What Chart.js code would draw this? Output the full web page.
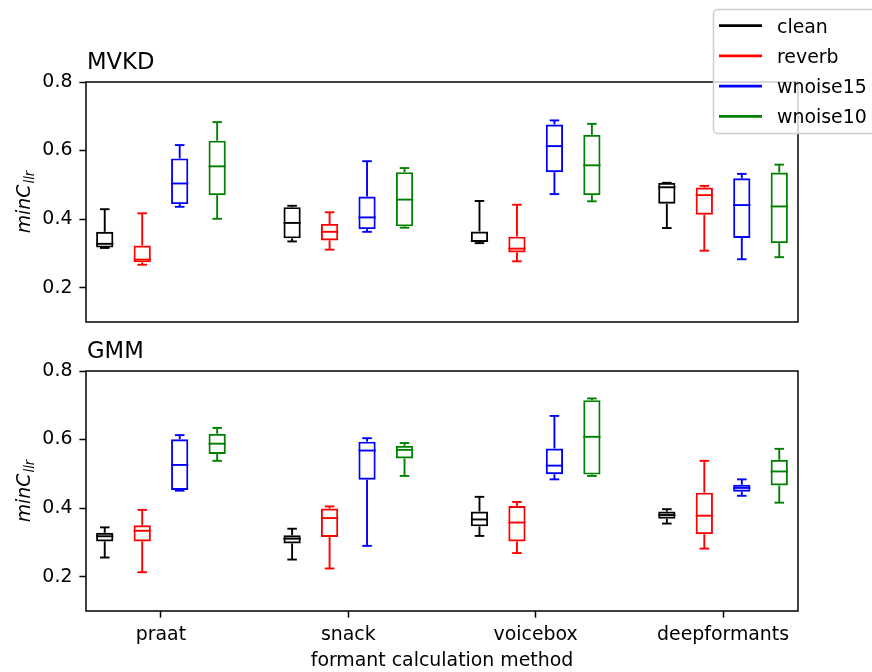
<!DOCTYPE html>
<html>
<head>
<meta charset="utf-8">
<script src="https://cdn.jsdelivr.net/npm/chart.js@4.4.1/dist/chart.umd.min.js"></script>
<style>
html,body{margin:0;padding:0;background:#fff;}
#wrap{position:relative;width:872px;height:672px;overflow:hidden;background:#fff;}
canvas{position:absolute;left:0;}
</style>
</head>
<body>
<div id="wrap">
<canvas id="cTop" width="872" height="336" style="top:0;width:872px;height:336px"></canvas>
<canvas id="cBot" width="872" height="336" style="top:336px;width:872px;height:336px"></canvas>
</div>
<script>
// ---------- data ----------
const categories = ['praat', 'snack', 'voicebox', 'deepformants'];
const seriesNames = ['clean', 'reverb', 'wnoise15', 'wnoise10'];
const panelTitles = ['MVKD', 'GMM'];
const yTickValues = [0.2, 0.4, 0.6, 0.8];
const xAxisTitle = 'formant calculation method';

// each box: [lower whisker, q1, median, q3, upper whisker], one per category
const mvkdClean    = [[0.316,0.317,0.328,0.363,0.429],[0.335,0.344,0.389,0.435,0.439],[0.330,0.333,0.336,0.364,0.453],[0.374,0.445,0.493,0.506,0.506]];
const mvkdReverb   = [[0.267,0.274,0.282,0.323,0.417],[0.311,0.338,0.363,0.386,0.420],[0.277,0.303,0.314,0.349,0.442],[0.308,0.413,0.470,0.492,0.497]];
const mvkdWnoise15 = [[0.436,0.444,0.504,0.577,0.616],[0.363,0.371,0.405,0.466,0.569],[0.473,0.537,0.613,0.676,0.688],[0.283,0.345,0.441,0.519,0.532]];
const mvkdWnoise10 = [[0.401,0.470,0.554,0.629,0.683],[0.375,0.379,0.457,0.537,0.549],[0.452,0.470,0.557,0.646,0.678],[0.289,0.330,0.437,0.536,0.559]];

const gmmClean    = [[0.256,0.303,0.318,0.328,0.344],[0.250,0.297,0.311,0.321,0.340],[0.319,0.347,0.367,0.390,0.433],[0.355,0.369,0.380,0.390,0.397]];
const gmmReverb   = [[0.213,0.303,0.334,0.350,0.395],[0.224,0.316,0.371,0.399,0.405],[0.269,0.303,0.358,0.406,0.418],[0.282,0.324,0.378,0.445,0.538]];
const gmmWnoise15 = [[0.451,0.453,0.526,0.601,0.613],[0.290,0.483,0.568,0.594,0.604],[0.484,0.499,0.524,0.574,0.669],[0.436,0.448,0.459,0.468,0.484]];
const gmmWnoise10 = [[0.538,0.558,0.588,0.617,0.634],[0.494,0.545,0.570,0.582,0.590],[0.494,0.498,0.608,0.715,0.720],[0.416,0.466,0.507,0.541,0.573]];

// ---------- styles ----------
const seriesColors = ['#000000', '#ff0000', '#0000ff', '#008000'];
const FONT = 'DejaVu Sans';
const FS = 18.9;

function buildDatasets(seriesStats) {
  return seriesNames.map((name, s) => ({
    label: name,
    stats: seriesStats[s],
    data: categories.map((c, i) => ({ x: i, y: [seriesStats[s][i][1], seriesStats[s][i][3]] })),
    borderColor: seriesColors[s],
    backgroundColor: 'rgba(0,0,0,0)',
    borderWidth: 1.9,
    borderSkipped: false,
    categoryPercentage: 0.8,
    barPercentage: 0.46
  }));
}

const boxPartsPlugin = {
  id: 'boxParts',
  afterDatasetsDraw(chart) {
    const ctx = chart.ctx;
    const ys = chart.scales.y;
    const line = (x1, y1, x2, y2) => { ctx.beginPath(); ctx.moveTo(x1, y1); ctx.lineTo(x2, y2); ctx.stroke(); };
    chart.data.datasets.forEach((ds, di) => {
      const meta = chart.getDatasetMeta(di);
      meta.data.forEach((el, i) => {
        const st = ds.stats[i];
        const p = el.getProps(['x', 'width'], true);
        const x = p.x, w = p.width, lw = ds.borderWidth;
        const py = v => ys.getPixelForValue(v);
        ctx.save();
        ctx.strokeStyle = ds.borderColor;
        ctx.lineWidth = lw;
        ctx.lineCap = 'butt';
        line(x, py(st[3]), x, py(st[4]));
        line(x, py(st[1]), x, py(st[0]));
        const ch = (w - lw) / 4 + lw / 2;
        line(x - ch, py(st[4]), x + ch, py(st[4]));
        line(x - ch, py(st[0]), x + ch, py(st[0]));
        line(x - w / 2, py(st[2]), x + w / 2, py(st[2]));
        ctx.restore();
      });
    });
  }
};

const framePlugin = {
  id: 'frame',
  afterDraw(chart, args, opts) {
    const ctx = chart.ctx, a = chart.chartArea;
    ctx.save();
    ctx.strokeStyle = '#000';
    ctx.lineWidth = 1.5;
    ctx.strokeRect(a.left, a.top, a.right - a.left, a.bottom - a.top);
    // panel title
    ctx.fillStyle = '#000';
    ctx.font = '22.7px "' + FONT + '"';
    ctx.textAlign = 'left';
    ctx.textBaseline = 'alphabetic';
    ctx.fillText(opts.title, a.left + 1, a.top - 13);
    // y axis label minC_llr
    const cy = (a.top + a.bottom) / 2;
    ctx.translate(30, cy);
    ctx.rotate(-Math.PI / 2);
    const mainFont = 'italic ' + FS + 'px "' + FONT + '"';
    const subFont = 'italic 13.2px "' + FONT + '"';
    ctx.font = mainFont;
    const w1 = ctx.measureText('minC').width;
    ctx.font = subFont;
    const w2 = ctx.measureText('llr').width;
    const x0 = -(w1 + w2 + 1) / 2;
    ctx.font = mainFont;
    ctx.fillText('minC', x0, 0);
    ctx.font = subFont;
    ctx.fillText('llr', x0 + w1 + 1, 4);
    ctx.restore();
  }
};

const legendPlugin = {
  id: 'boxLegend',
  afterDraw(chart, args, opts) {
    if (!opts.show) return;
    const ctx = chart.ctx;
    ctx.save();
    ctx.beginPath();
    ctx.roundRect(713.5, 9.5, 180, 124, 4);
    ctx.fillStyle = 'rgba(255,255,255,0.8)';
    ctx.fill();
    ctx.strokeStyle = '#cccccc';
    ctx.lineWidth = 1.5;
    ctx.stroke();
    chart.data.datasets.forEach((ds, k) => {
      const ry = 25.7 + 30.2 * k;
      ctx.strokeStyle = ds.borderColor;
      ctx.lineWidth = 2.8;
      ctx.beginPath(); ctx.moveTo(719, ry); ctx.lineTo(762, ry); ctx.stroke();
      ctx.fillStyle = '#000';
      ctx.font = FS + 'px "' + FONT + '"';
      ctx.textAlign = 'left';
      ctx.textBaseline = 'alphabetic';
      ctx.fillText(ds.label, 777, ry + 7);
    });
    ctx.restore();
  }
};

function makeChart(canvasId, title, seriesStats, cfg) {
  return new Chart(document.getElementById(canvasId), {
    type: 'bar',
    data: { datasets: buildDatasets(seriesStats) },
    plugins: [boxPartsPlugin, framePlugin, legendPlugin],
    options: {
      responsive: false,
      animation: false,
      events: [],
      layout: { padding: { left: 0, right: 74, top: cfg.top, bottom: 0 } },
      plugins: {
        legend: { display: false },
        tooltip: { enabled: false },
        title: { display: false },
        frame: { title: title },
        boxLegend: { show: cfg.legend }
      },
      scales: {
        x: {
          type: 'linear',
          min: -0.4, max: 3.4,
          offset: false,
          afterBuildTicks: s => { s.ticks = categories.map((c, i) => ({ value: i })); },
          afterFit: s => { s.height = cfg.xh; s.paddingLeft = 0; s.paddingRight = 0; },
          border: { display: false },
          grid: { display: cfg.showX, offset: false, drawOnChartArea: false, drawTicks: true, tickLength: 6.6, tickWidth: 1.5, tickColor: '#000' },
          ticks: {
            display: cfg.showX, autoSkip: false, maxRotation: 0, padding: 6, color: '#000',
            font: { family: FONT, size: FS },
            callback: v => categories[v]
          },
          title: {
            display: cfg.showX, text: xAxisTitle, color: '#000',
            font: { family: FONT, size: FS }, padding: { top: 0, bottom: 0 }
          }
        },
        y: {
          min: 0.1, max: 0.8,
          afterBuildTicks: s => { s.ticks = yTickValues.map(v => ({ value: v })); },
          afterFit: s => { s.width = 86; s.paddingTop = 0; s.paddingBottom = 0; },
          border: { display: false },
          grid: { drawOnChartArea: false, drawTicks: true, tickLength: 6.6, tickWidth: 1.5, tickColor: '#000' },
          ticks: {
            padding: 7, color: '#000',
            font: { family: FONT, size: FS },
            callback: v => v.toFixed(1)
          }
        }
      }
    }
  });
}

makeChart('cTop', panelTitles[0], [mvkdClean, mvkdReverb, mvkdWnoise15, mvkdWnoise10], { top: 82, xh: 14, showX: false, legend: true });
makeChart('cBot', panelTitles[1], [gmmClean, gmmReverb, gmmWnoise15, gmmWnoise10], { top: 35, xh: 61, showX: true, legend: false });
</script>
</body>
</html>
